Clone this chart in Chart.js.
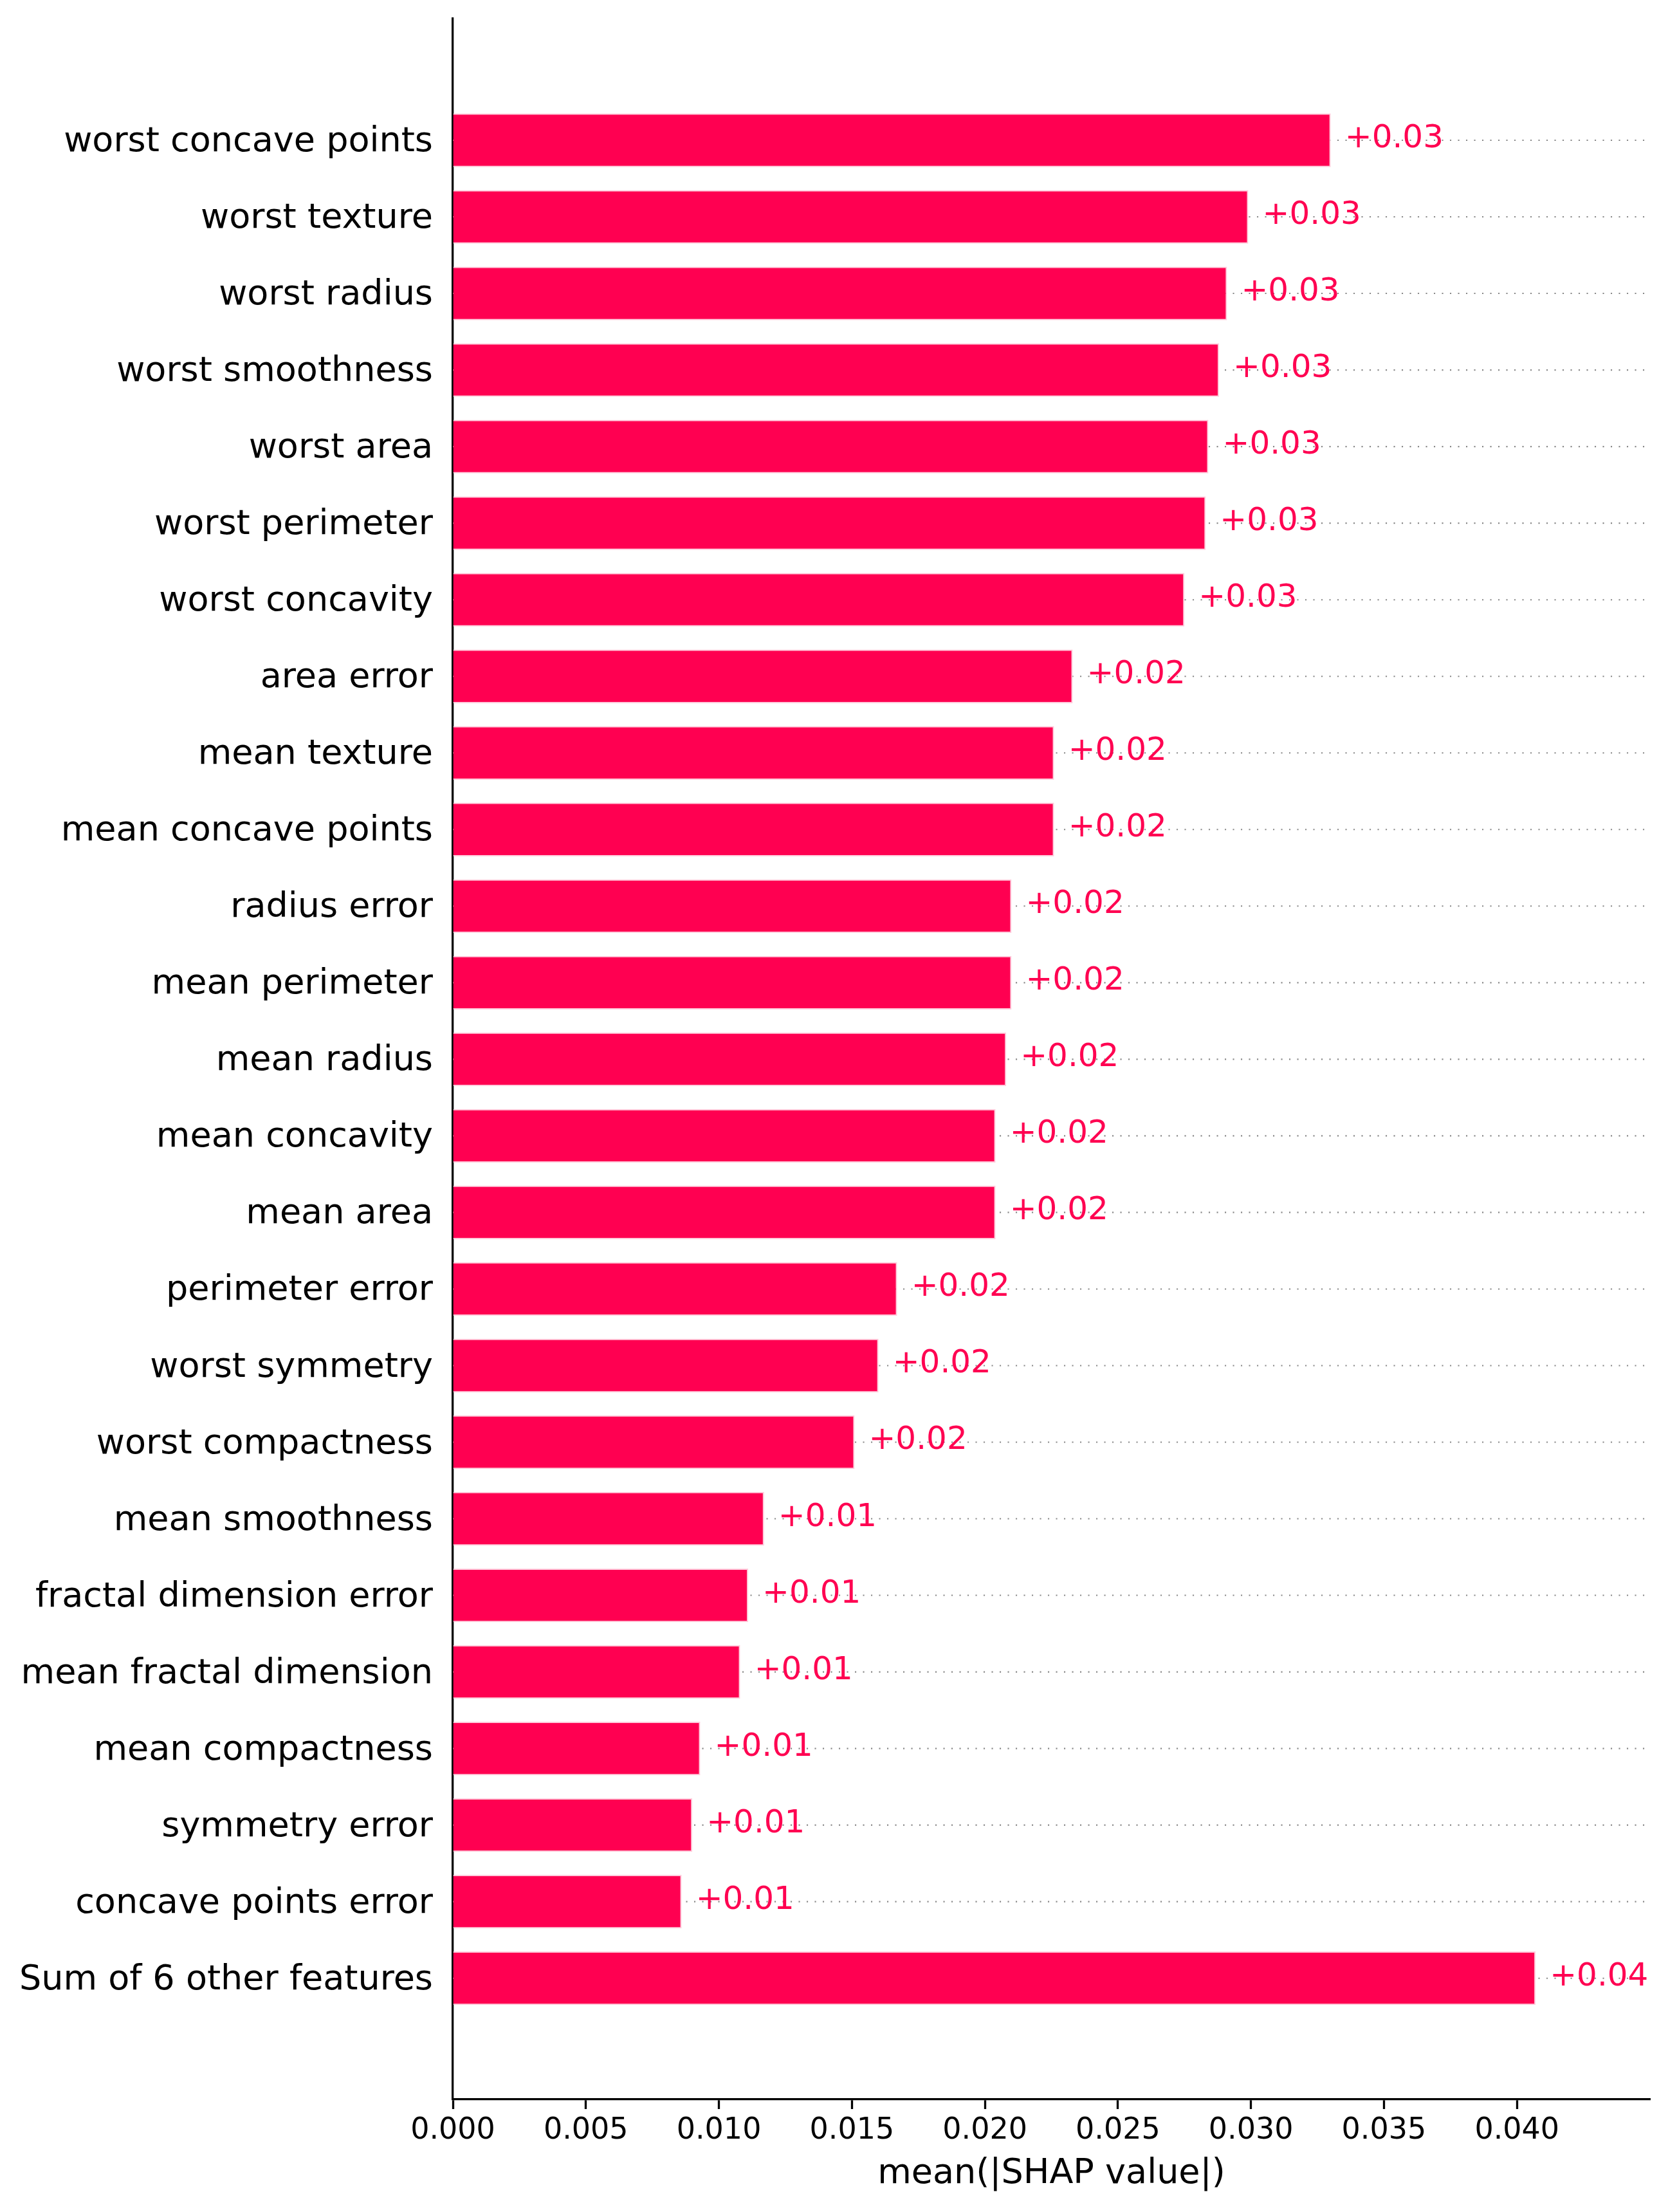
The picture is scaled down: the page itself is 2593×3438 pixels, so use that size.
<!DOCTYPE html>
<html lang="en">
<head>
    <meta charset="UTF-8">
    <title>mean(|SHAP value|)</title>
    <script src="https://cdn.jsdelivr.net/npm/chart.js"></script>
    <style>
        html, body { margin: 0; padding: 0; background: #ffffff; }
        #wrap { width: 2593px; height: 3438px; position: relative; }
    </style>
</head>
<body>
    <div id="wrap">
        <canvas id="shapChart"></canvas>
    </div>

    <script>
        // features, top to bottom
        const features = [
            'worst concave points', 'worst texture', 'worst radius', 'worst smoothness',
            'worst area', 'worst perimeter', 'worst concavity', 'area error',
            'mean texture', 'mean concave points', 'radius error', 'mean perimeter',
            'mean radius', 'mean concavity', 'mean area', 'perimeter error',
            'worst symmetry', 'worst compactness', 'mean smoothness', 'fractal dimension error',
            'mean fractal dimension', 'mean compactness', 'symmetry error', 'concave points error',
            'Sum of 6 other features'
        ];

        // mean(|SHAP value|)
        const meanShap = [
            0.0330, 0.0299, 0.0291, 0.0288,
            0.0284, 0.0283, 0.0275, 0.0233,
            0.0226, 0.0226, 0.0210, 0.0210,
            0.0208, 0.0204, 0.0204, 0.0167,
            0.0160, 0.0151, 0.0117, 0.0111,
            0.0108, 0.0093, 0.0090, 0.0086,
            0.0407
        ];

        const xTickValues = [0, 0.005, 0.010, 0.015, 0.020, 0.025, 0.030, 0.035, 0.040];
        const xTickLabels = ['0.000', '0.005', '0.010', '0.015', '0.020', '0.025', '0.030', '0.035', '0.040'];

        const barColor = '#ff0051';
        const fontFamily = '"DejaVu Sans", Verdana, sans-serif';

        // dotted guide line behind every row
        const rowLines = {
            id: 'rowLines',
            beforeDatasetsDraw(chart) {
                const { ctx, chartArea, scales } = chart;
                ctx.save();
                ctx.strokeStyle = '#888888';
                ctx.lineWidth = 2.1;
                ctx.setLineDash([2.1, 10.4]);
                features.forEach((f, i) => {
                    const y = scales.y.getPixelForValue(i);
                    ctx.beginPath();
                    ctx.moveTo(chartArea.left, y);
                    ctx.lineTo(chartArea.right, y);
                    ctx.stroke();
                });
                ctx.restore();
            }
        };

        // "+0.03" style labels after each bar
        const valueLabels = {
            id: 'valueLabels',
            afterDatasetsDraw(chart) {
                const { ctx } = chart;
                const meta = chart.getDatasetMeta(0);
                ctx.save();
                ctx.font = '50px ' + fontFamily;
                ctx.fillStyle = barColor;
                ctx.textAlign = 'left';
                ctx.textBaseline = 'middle';
                meta.data.forEach((bar, i) => {
                    ctx.fillText('+' + meanShap[i].toFixed(2), bar.x + 22, bar.y - 2);
                });
                ctx.restore();
            }
        };

        const ctx = document.getElementById('shapChart').getContext('2d');
        new Chart(ctx, {
            type: 'bar',
            data: {
                datasets: [{
                    data: meanShap.map((v, i) => ({ x: v, y: i })),
                    backgroundColor: barColor,
                    borderColor: '#ffccdc',
                    borderWidth: 2,
                    borderSkipped: 'start',
                    categoryPercentage: 1.0,
                    barPercentage: 0.7
                }]
            },
            options: {
                indexAxis: 'y',
                responsive: true,
                maintainAspectRatio: false,
                animation: false,
                layout: { padding: { top: 29, right: 28, bottom: 0, left: 0 } },
                plugins: {
                    legend: { display: false },
                    tooltip: { enabled: false }
                },
                scales: {
                    x: {
                        type: 'linear',
                        min: 0,
                        max: 0.045,
                        afterBuildTicks: s => { s.ticks = xTickValues.map(v => ({ value: v })); },
                        afterFit: s => {
                            s.height = 175;
                            s.paddingLeft = 0;
                            s.paddingRight = 0;
                        },
                        ticks: {
                            callback: (v, i) => xTickLabels[i],
                            font: { family: fontFamily, size: 46 },
                            color: '#000000',
                            padding: 6,
                            maxRotation: 0
                        },
                        grid: {
                            drawOnChartArea: false,
                            tickLength: 15,
                            tickWidth: 3.3,
                            tickColor: '#000000'
                        },
                        border: { display: true, color: '#000000', width: 3.3 },
                        title: {
                            display: true,
                            text: 'mean(|SHAP value|)',
                            font: { family: fontFamily, size: 54 },
                            color: '#000000',
                            padding: { top: 0, bottom: 27 }
                        }
                    },
                    y: {
                        type: 'linear',
                        reverse: true,
                        offset: false,
                        min: -1.588,
                        max: 25.582,
                        afterBuildTicks: s => { s.ticks = features.map((f, i) => ({ value: i })); },
                        afterFit: s => {
                            s.width = 704;
                            s.paddingTop = 0;
                            s.paddingBottom = 0;
                        },
                        ticks: {
                            callback: v => features[v],
                            font: { family: fontFamily, size: 54 },
                            color: '#000000',
                            padding: 31,
                            labelOffset: 3
                        },
                        grid: { display: false, drawTicks: false, offset: false },
                        border: { display: true, color: '#000000', width: 3.3 }
                    }
                }
            },
            plugins: [rowLines, valueLabels]
        });
    </script>
</body>
</html>
